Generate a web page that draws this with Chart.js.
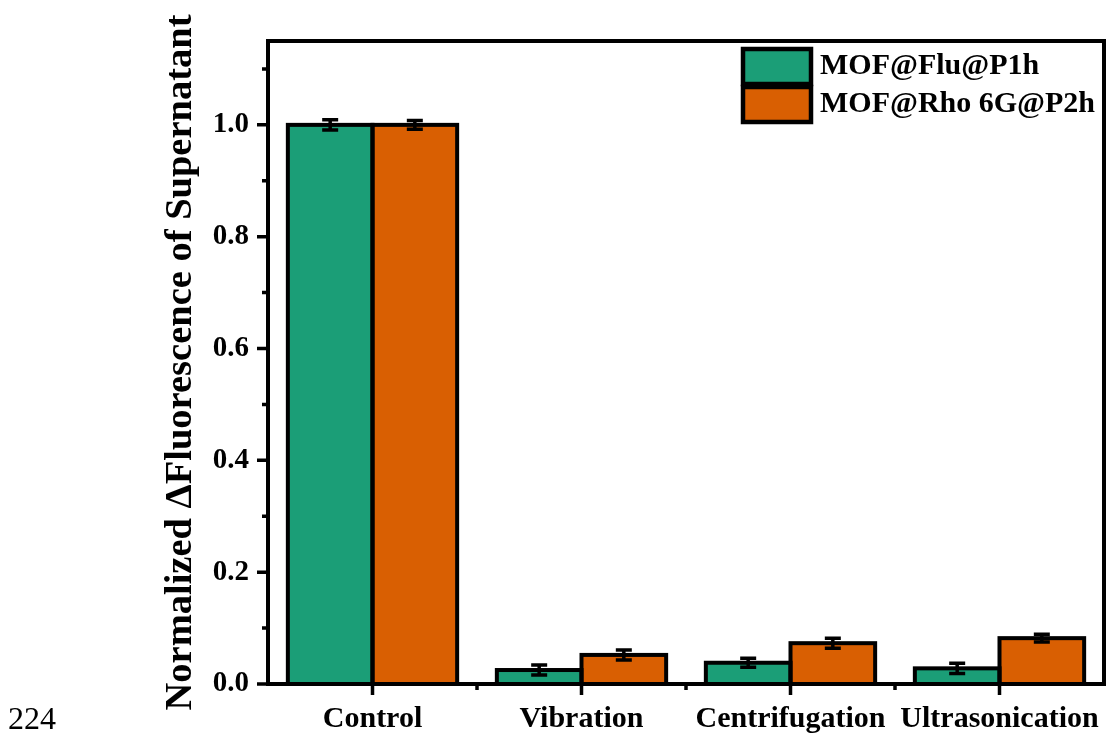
<!DOCTYPE html>
<html>
<head>
<meta charset="utf-8">
<script src="https://cdn.jsdelivr.net/npm/chart.js@4.4.1/dist/chart.umd.min.js"></script>
<style>
    body { margin: 0; background: #fff; }
    #wrap { position: relative; width: 1109px; height: 738px; }
    #lineNo { position: absolute; left: 8px; top: 700px; font: 32px 'Liberation Serif', serif; color: #000; }
</style>
</head>
<body>
<div id="wrap">
    <canvas id="fluChart" width="1109" height="738"></canvas>
    <div id="lineNo">224</div>
</div>
<script>
// --- Data ---
const categories = ['Control', 'Vibration', 'Centrifugation', 'Ultrasonication'];
const seriesLabels = ['MOF@Flu@P1h', 'MOF@Rho 6G@P2h'];
const fluValues = [1.0, 0.025, 0.038, 0.028];
const fluErrors = [0.009, 0.009, 0.008, 0.009];
const rhoValues = [1.0, 0.052, 0.073, 0.082];
const rhoErrors = [0.008, 0.009, 0.009, 0.007];
const yTicks = [0, 0.2, 0.4, 0.6, 0.8, 1.0];
const yMinorTicks = [0.1, 0.3, 0.5, 0.7, 0.9, 1.1];

const errors = [fluErrors, rhoErrors];
const FONT = "'Liberation Serif', 'Times New Roman', serif";

// --- bar outlines + error bars ---
const errorBars = {
    id: 'errorBars',
    afterDatasetsDraw(chart) {
        const { ctx, scales: { y } } = chart;
        ctx.save();
        ctx.strokeStyle = '#000';
        // outlines centred on the bar edges so touching bars share one line
        ctx.lineWidth = 4;
        chart.data.datasets.forEach((ds, i) => {
            chart.getDatasetMeta(i).data.forEach(bar => {
                const w = bar.width;
                ctx.strokeRect(bar.x - w / 2, bar.y, w, bar.base - bar.y);
            });
        });
        ctx.lineWidth = 3.5;
        chart.data.datasets.forEach((ds, i) => {
            const meta = chart.getDatasetMeta(i);
            meta.data.forEach((bar, j) => {
                const v = ds.data[j];
                const e = errors[i][j];
                const yTop = y.getPixelForValue(v + e);
                const yBot = y.getPixelForValue(v - e);
                ctx.beginPath();
                ctx.moveTo(bar.x, yTop); ctx.lineTo(bar.x, yBot);
                ctx.moveTo(bar.x - 8, yTop); ctx.lineTo(bar.x + 8, yTop);
                ctx.moveTo(bar.x - 8, yBot); ctx.lineTo(bar.x + 8, yBot);
                ctx.stroke();
            });
        });
        ctx.restore();
    }
};

// --- frame, ticks, legend ---
const frameAndLegend = {
    id: 'frameAndLegend',
    afterDraw(chart) {
        const { ctx, chartArea: a, scales: { x, y } } = chart;
        ctx.save();
        ctx.strokeStyle = '#000';
        ctx.lineWidth = 4;
        ctx.strokeRect(a.left, a.top, a.right - a.left, a.bottom - a.top);

        ctx.lineWidth = 3.5;
        ctx.beginPath();
        yTicks.forEach(v => {
            const py = y.getPixelForValue(v);
            ctx.moveTo(a.left - 11, py); ctx.lineTo(a.left, py);
        });
        yMinorTicks.forEach(v => {
            const py = y.getPixelForValue(v);
            ctx.moveTo(a.left - 6, py); ctx.lineTo(a.left, py);
        });
        categories.forEach((c, i) => {
            const px = x.getPixelForValue(i);
            ctx.moveTo(px, a.bottom); ctx.lineTo(px, a.bottom + 11);
            if (i > 0) {
                const mid = (px + x.getPixelForValue(i - 1)) / 2;
                ctx.moveTo(mid, a.bottom); ctx.lineTo(mid, a.bottom + 6);
            }
        });
        ctx.stroke();

        // legend inside the plot, top right
        ctx.font = 'bold 30px ' + FONT;
        ctx.textBaseline = 'middle';
        ctx.textAlign = 'left';
        chart.data.datasets.forEach((ds, i) => {
            const top = 49 + i * 38;
            ctx.fillStyle = ds.backgroundColor;
            ctx.fillRect(743, top, 68, 35);
            ctx.lineWidth = 4.5;
            ctx.strokeRect(743, top, 68, 35);
            ctx.fillStyle = '#000';
            ctx.fillText(ds.label, 820, top + 17);
        });
        ctx.restore();
    }
};

new Chart(document.getElementById('fluChart'), {
    type: 'bar',
    data: {
        labels: categories,
        datasets: [
            {
                label: seriesLabels[0],
                data: fluValues,
                backgroundColor: '#1b9e77',
                borderWidth: 0,
                inflateAmount: 0.5
            },
            {
                label: seriesLabels[1],
                data: rhoValues,
                backgroundColor: '#d95f02',
                borderWidth: 0,
                inflateAmount: 0.5
            }
        ]
    },
    plugins: [errorBars, frameAndLegend],
    options: {
        responsive: false,
        animation: false,
        layout: { padding: { top: 41, right: 5, left: 0, bottom: 0 } },
        datasets: { bar: { categoryPercentage: 0.81, barPercentage: 1.0 } },
        plugins: {
            legend: { display: false },
            tooltip: { enabled: false }
        },
        scales: {
            x: {
                grid: { display: false, drawTicks: false },
                border: { display: false },
                ticks: {
                    color: '#000',
                    padding: 17,
                    maxRotation: 0,
                    autoSkip: false,
                    font: { family: FONT, size: 30, weight: 'bold' }
                },
                afterFit: (scale) => {
                    scale.height = 54;
                    scale.paddingLeft = 0;
                    scale.paddingRight = 0;
                }
            },
            y: {
                min: 0,
                max: 1.15,
                grid: { display: false, drawTicks: false },
                border: { display: false },
                afterBuildTicks: (scale) => { scale.ticks = yTicks.map(v => ({ value: v })); },
                ticks: {
                    color: '#000',
                    padding: 19,
                    callback: (v) => Number(v).toFixed(1),
                    font: { family: FONT, size: 29, weight: 'bold' }
                },
                title: {
                    display: true,
                    text: 'Normalized ΔFluorescence of Supernatant',
                    color: '#000',
                    padding: { top: 158, bottom: 0 },
                    font: { family: FONT, size: 38.5, weight: 'bold' }
                },
                afterFit: (scale) => { scale.width = 268; }
            }
        }
    }
});
</script>
</body>
</html>
